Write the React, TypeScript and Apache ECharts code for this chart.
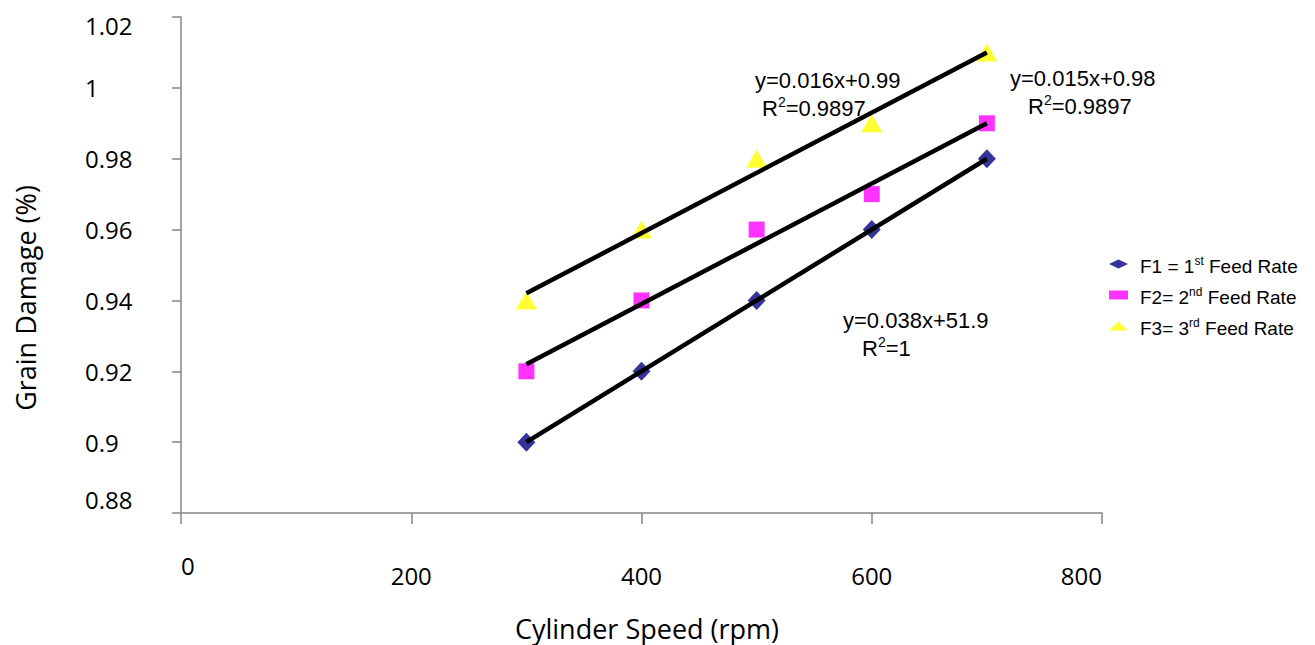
import React, { useEffect, useRef } from "react";
import * as echarts from "echarts";

const speeds = [300, 400, 500, 600, 700];
const feed1 = [0.9, 0.92, 0.94, 0.96, 0.98];
const feed2 = [0.92, 0.94, 0.96, 0.97, 0.99];
const feed3 = [0.94, 0.96, 0.98, 0.99, 1.01];
const seriesNames = ["F1 = 1st Feed Rate", "F2= 2nd Feed Rate", "F3= 3rd Feed Rate"];
const legendRich = ["F1 = 1{sup|st} Feed Rate", "F2= 2{sup|nd} Feed Rate", "F3= 3{sup|rd} Feed Rate"];
const eq1 = ["y=0.016x+0.99", "R{sup|2}=0.9897"];
const eq2 = ["y=0.015x+0.98", "R{sup|2}=0.9897"];
const eq3 = ["y=0.038x+51.9", "R{sup|2}=1"];
const xTitle = "Cylinder Speed (rpm)";
const yTitle = "Grain Damage (%)";

function fit(xs: number[], ys: number[]) {
  const n = xs.length;
  const mx = xs.reduce((a, b) => a + b, 0) / n;
  const my = ys.reduce((a, b) => a + b, 0) / n;
  let sxy = 0, sxx = 0;
  for (let i = 0; i < n; i++) {
    sxy += (xs[i] - mx) * (ys[i] - my);
    sxx += (xs[i] - mx) * (xs[i] - mx);
  }
  const b = sxy / sxx;
  const a = my - b * mx;
  const x0 = Math.min(...xs), x1 = Math.max(...xs);
  return [[x0, a + b * x0], [x1, a + b * x1]];
}

const pts = (ys: number[]) => speeds.map((x, i) => [x, ys[i]]);

export default function App() {
  const ref = useRef<HTMLDivElement>(null);
  useEffect(() => {
    const chart = echarts.init(ref.current!, null, { renderer: "svg" });
    const axisFont = "'Open Sans', sans-serif";
    const arial = "'Liberation Sans', Arial, sans-serif";
    const supRich = { sup: { fontSize: 14, fontFamily: arial, color: "#000", padding: [0, 0, 12, 0] } };
    const eqText = (lines: string[], x: number, y: number, dx: number) => [
      { type: "text", x, y, style: { text: lines[0], fontSize: 22, fontFamily: arial, fill: "#000", verticalAlign: "middle", align: "left" } },
      { type: "text", x: x + dx, y: y + 28, style: { text: lines[1], fontSize: 22, fontFamily: arial, fill: "#000", verticalAlign: "middle", align: "left", rich: supRich } },
    ];
    const trend = (ys: number[]) => ({
      type: "line",
      data: fit(speeds, ys),
      symbol: "none",
      lineStyle: { color: "#000", width: 4.5 },
      z: 5,
      silent: true,
    });
    const yFmt = (v: number) => {
      const s = String(+v.toFixed(2));
      if (Math.abs(v - 1.02) < 1e-6) return "{top|" + s + "}";
      if (Math.abs(v - 0.88) < 1e-6) return "{bot|" + s + "}";
      return s;
    };
    const xFmt = (v: number) => (v === 0 ? "{z|0}" : "{o|" + v + "}");
    const lbl = { fontSize: 24, fontFamily: axisFont, color: "#000" };
    chart.setOption({
      animation: false,
      backgroundColor: "#fff",
      grid: { left: 181, right: 213, top: 17, bottom: 132 },
      xAxis: {
        type: "value",
        min: 0,
        max: 800,
        interval: 200,
        splitLine: { show: false },
        axisLine: { show: true, lineStyle: { color: "#868686", width: 1.5 } },
        axisTick: { show: true, length: 11, lineStyle: { color: "#868686", width: 1.5 } },
        axisLabel: {
          margin: 40,
          alignMinLabel: "left",
          alignMaxLabel: "right",
          formatter: xFmt,
          ...lbl,
          rich: { z: { ...lbl }, o: { ...lbl, padding: [10, 0, 0, 0] } },
        },
      },
      yAxis: {
        type: "value",
        min: 0.88,
        max: 1.02,
        interval: 0.02,
        splitLine: { show: false },
        axisLine: { show: true, lineStyle: { color: "#868686", width: 1.5 } },
        axisTick: { show: true, length: 9, lineStyle: { color: "#868686", width: 1.5 } },
        axisLabel: {
          margin: 96,
          align: "left",
          formatter: yFmt,
          ...lbl,
          rich: { top: { ...lbl, padding: [16, 0, 0, 0] }, bot: { ...lbl, padding: [0, 0, 28, 0] } },
        },
      },
      legend: {
        data: seriesNames,
        orient: "vertical",
        left: 1104,
        top: 246,
        itemWidth: 19,
        itemHeight: 9,
        itemGap: 5,
        formatter: (name: string) => legendRich[seriesNames.indexOf(name)],
        textStyle: {
          fontSize: 19,
          fontFamily: arial,
          color: "#000",
          lineHeight: 22,
          padding: [4, 0, 0, 7],
          rich: { sup: { fontSize: 12, fontFamily: arial, color: "#000", padding: [0, 0, 10, 0] } },
        },
      },
      series: [
        { name: seriesNames[0], type: "scatter", data: pts(feed1), symbol: "diamond", symbolSize: [18, 19], itemStyle: { color: "#000080" }, z: 3 },
        { name: seriesNames[1], type: "scatter", data: pts(feed2), symbol: "rect", symbolSize: [16, 16], itemStyle: { color: "#FF00FF" }, z: 3 },
        { name: seriesNames[2], type: "scatter", data: pts(feed3), symbol: "triangle", symbolSize: [21, 18], itemStyle: { color: "#FFFF00" }, z: 3 },
        trend(feed1),
        trend(feed2),
        trend(feed3),
      ],
      graphic: [
        ...eqText(eq1, 755, 80, 7),
        ...eqText(eq2, 1010, 78, 18),
        ...eqText(eq3, 843, 320, 19),
        { type: "text", x: 647, y: 628, style: { text: xTitle, fontSize: 27, fontFamily: axisFont, fill: "#000", align: "center", verticalAlign: "middle" } },
        { type: "text", x: 25, y: 298, rotation: Math.PI / 2, style: { text: yTitle, fontSize: 27, fontFamily: axisFont, fill: "#000", align: "center", verticalAlign: "middle" } },
      ],
    });
    return () => chart.dispose();
  }, []);
  return <div ref={ref} style={{ position: "fixed", left: 0, top: 0, width: 1315, height: 645 }} />;
}
